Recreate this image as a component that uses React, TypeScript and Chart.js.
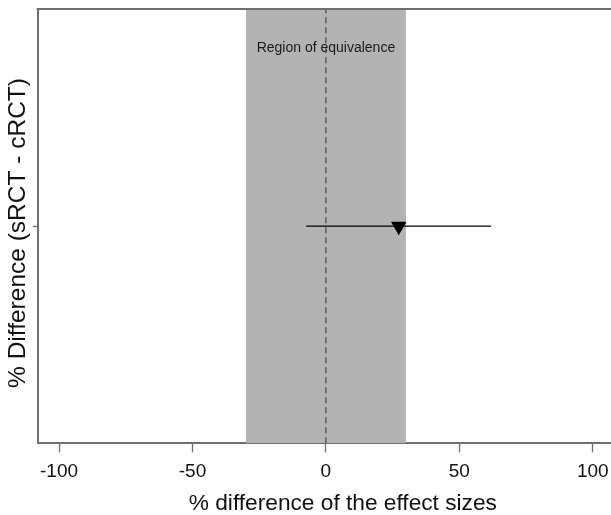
import { useEffect, useRef } from 'react';
import { Chart, registerables } from 'chart.js';

Chart.register(...registerables);

// ---- data ----
const xTickValues = [-100, -50, 0, 50, 100];
const xLimits = [-108, 120.7];
const yLimits = [0, 2];
const yTickValues = [1];
const equivalenceBounds = [-30, 30];
const referenceLine = [0];
const estimateX = [27.3];
const estimateY = [1];
const ciLower = [-7.4];
const ciUpper = [61.9];
const equivalenceLabel = 'Region of equivalence';
const xTitle = '% difference of the effect sizes';
const yTitle = '% Difference (sRCT - cRCT)  ';

const FONT = '"Liberation Sans", Arial, Helvetica, sans-serif';
const AXIS_COLOR = '#6f6f6f';
const TEXT_COLOR = '#111111';

const framePlugin = {
  id: 'frame',
  afterDatasetsDraw(chart: any) {
    const { ctx, chartArea } = chart;
    const { left, right, top } = chartArea;
    ctx.save();
    ctx.strokeStyle = AXIS_COLOR;
    ctx.lineWidth = 2;
    ctx.beginPath();
    ctx.moveTo(left - 1, top);
    ctx.lineTo(right, top);
    ctx.stroke();
    const xs = chart.scales.x;
    ctx.fillStyle = '#1a1a1a';
    ctx.font = `14px ${FONT}`;
    ctx.textAlign = 'center';
    ctx.textBaseline = 'alphabetic';
    ctx.fillText(equivalenceLabel, xs.getPixelForValue(referenceLine[0]), top + 42.6);
    ctx.restore();
  },
};

export default function App() {
  const ref = useRef<HTMLCanvasElement | null>(null);

  useEffect(() => {
    if (!ref.current) return;
    const chart = new Chart(ref.current, {
      type: 'scatter',
      data: {
        datasets: [
          {
            label: 'estimate',
            data: estimateX.map((x, i) => ({ x, y: estimateY[i] })),
            pointStyle: 'triangle',
            rotation: 180,
            pointRadius: 9,
            backgroundColor: '#000000',
            borderColor: '#000000',
            borderWidth: 0,
            order: 0,
          },
          {
            label: 'ci',
            data: [
              { x: ciLower[0], y: estimateY[0] },
              { x: ciUpper[0], y: estimateY[0] },
            ],
            showLine: true,
            borderColor: '#000000',
            borderWidth: 1.2,
            pointRadius: 0,
            order: 1,
          },
          {
            label: 'zero',
            data: [
              { x: referenceLine[0], y: yLimits[0] },
              { x: referenceLine[0], y: yLimits[1] },
            ],
            showLine: true,
            borderColor: '#444444',
            borderWidth: 1.2,
            borderDash: [6, 4],
            pointRadius: 0,
            order: 2,
          },
          {
            label: 'band',
            data: [
              { x: equivalenceBounds[0], y: yLimits[1] },
              { x: equivalenceBounds[1], y: yLimits[1] },
            ],
            showLine: true,
            fill: 'origin',
            backgroundColor: '#B3B3B3',
            borderColor: 'rgba(0,0,0,0)',
            borderWidth: 0,
            pointRadius: 0,
            order: 3,
          },
        ],
      },
      options: {
        responsive: false,
        animation: false,
        devicePixelRatio: 1,
        events: [],
        layout: { padding: { top: 6.7, right: 52, bottom: 0, left: 0 } },
        plugins: {
          legend: { display: false },
          tooltip: { enabled: false },
        },
        scales: {
          x: {
            type: 'linear',
            position: 'bottom',
            min: xLimits[0],
            max: xLimits[1],
            afterBuildTicks: (s: any) => {
              s.ticks = xTickValues.map((v) => ({ value: v }));
            },
            ticks: {
              font: { family: FONT, size: 19, lineHeight: 1.2 },
              color: TEXT_COLOR,
              padding: 8.3,
              maxRotation: 0,
              autoSkip: false,
            },
            grid: {
              display: true,
              drawOnChartArea: false,
              drawTicks: true,
              tickLength: 9,
              tickColor: AXIS_COLOR,
              tickWidth: 1.3,
            },
            border: { display: true, color: AXIS_COLOR, width: 2 },
            title: {
              display: true,
              text: xTitle,
              color: TEXT_COLOR,
              font: { family: FONT, size: 22.7, lineHeight: 1 },
              padding: { top: 0.6, bottom: 0 },
            },
          },
          y: {
            type: 'linear',
            position: 'left',
            min: yLimits[0],
            max: yLimits[1],
            afterBuildTicks: (s: any) => {
              s.ticks = yTickValues.map((v) => ({ value: v }));
            },
            ticks: { display: false },
            grid: {
              display: true,
              drawOnChartArea: false,
              drawTicks: true,
              tickLength: 5,
              tickColor: AXIS_COLOR,
              tickWidth: 1.3,
            },
            border: { display: true, color: AXIS_COLOR, width: 2 },
            title: {
              display: true,
              text: yTitle,
              color: TEXT_COLOR,
              font: { family: FONT, size: 24.5, lineHeight: 1 },
              padding: { top: 5.75, bottom: 2.45 },
            },
          },
        },
      },
      plugins: [framePlugin],
    });
    return () => chart.destroy();
  }, []);

  return (
    <div
      style={{
        position: 'fixed',
        left: 0,
        top: 0,
        width: 611,
        height: 515,
        overflow: 'hidden',
        background: '#ffffff',
      }}
    >
      <canvas ref={ref} width={700} height={515} style={{ display: 'block' }} />
    </div>
  );
}
